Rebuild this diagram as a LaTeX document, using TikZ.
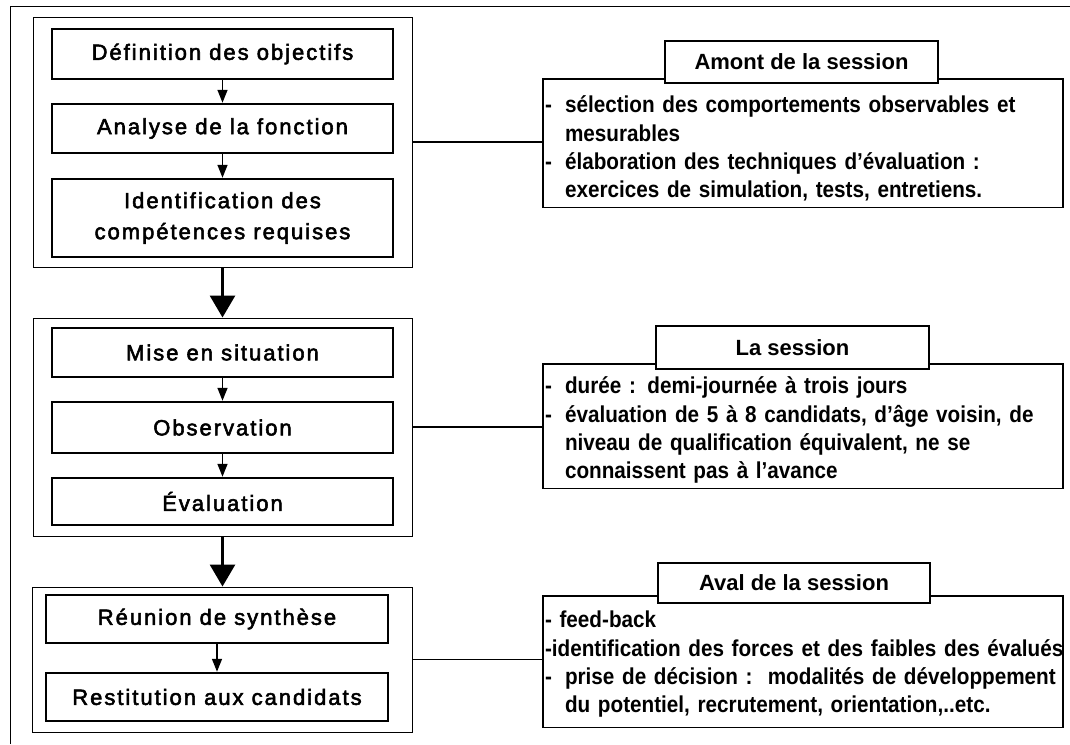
\documentclass[tikz,border=0pt]{standalone}
\usepackage{fontspec}
\setmainfont{Liberation Sans}
\newfontfamily\spacedfont[LetterSpace=9,FakeBold=2.5,Ligatures=TeX]{Liberation Sans}
\newfontfamily\infofont[FakeStretch=0.9,Ligatures=TeX]{Liberation Sans Bold}
\usetikzlibrary{arrows.meta}
\newcommand\oneline[1]{\mbox{#1}}
\newcommand\dashitem{\makebox[20pt][l]{-}}
\newcommand\indentitem{\hspace*{20pt}}
\newcommand\toprule[1]{\rule{0pt}{#1}}
\newcommand\botrule[1]{\rule[-#1]{0pt}{#1}}
\begin{document}
\begin{tikzpicture}[x=1pt,y=-1pt,
  stepbox/.style={draw, line width=2.5pt, minimum width=341pt, inner sep=0pt, align=center,
    font=\spacedfont\fontsize{22}{31}\selectfont},
  groupbox/.style={draw, line width=1pt, inner sep=0pt},
  titlebox/.style={draw, fill=white, line width=2pt, inner sep=0pt,
    font=\bfseries\fontsize{22}{26}\selectfont},
  infobox/.style={draw, line width=1.5pt, anchor=north, text width=516pt, inner xsep=2pt, inner ysep=0pt,
    align=left, font=\infofont\fontsize{23}{28.3}\selectfont},
  smallarrow/.style={line width=1.5pt, -{Triangle[width=10pt,length=13pt]}},
  bigarrow/.style={line width=3pt, -{Triangle[width=25pt,length=22pt]}},
  link/.style={line width=1.5pt},
  frame/.style={line width=1pt}]
\path[use as bounding box] (0,0) rectangle (1070,744);

% outer frame (top and left edges)
\draw[frame] (10,744) -- (10,6) -- (1070,6);

% groups
\node[groupbox, minimum width=379pt, minimum height=250pt] (g1) at (222.5,142) {};
\node[groupbox, minimum width=379pt, minimum height=218pt] (g2) at (222.5,427) {};
\node[groupbox, minimum width=380pt, minimum height=145pt] (g3) at (222,659.5) {};

% steps
\node[stepbox, minimum height=50pt] (def) at (222.5,54) {Définition des objectifs};
\node[stepbox, minimum height=49pt] (ana) at (222.5,128.5) {Analyse de la fonction};
\node[stepbox, minimum height=78pt] (ide) at (222.5,218) {Identification des\\compétences requises};

\node[stepbox, minimum height=49pt] (mis) at (222.5,352.5) {Mise en situation};
\node[stepbox, minimum height=51pt] (obs) at (222.5,427.5) {Observation};
\node[stepbox, minimum height=47pt] (eva) at (222.5,501.5) {Évaluation};

\node[stepbox, minimum width=342pt, minimum height=48pt] (reu) at (217,619) {Réunion de synthèse};
\node[stepbox, minimum width=342pt, minimum height=48pt] (res) at (217,697) {Restitution aux candidats};

% arrows
\draw[smallarrow] (def.south) -- (ana.north);
\draw[smallarrow] (ana.south) -- (ide.north);
\draw[smallarrow] (mis.south) -- (obs.north);
\draw[smallarrow] (obs.south) -- (eva.north);
\draw[smallarrow] (reu.south) -- (res.north);
\draw[bigarrow] (g1.south) -- (g2.north);
\draw[bigarrow] (g2.south) -- (g2.south |- g3.north);

% info boxes
\node[infobox] (c1) at (803,78) {%
\toprule{34pt}\oneline{\dashitem sélection des comportements observables et}\\
\oneline{\indentitem mesurables}\\
\oneline{\dashitem élaboration des techniques d’évaluation :}\\
\oneline{\indentitem exercices de simulation, tests, entretiens.}\botrule{10pt}};
\node[infobox] (c2) at (803,363) {%
\toprule{30pt}\oneline{\dashitem durée : demi-journée à trois jours}\\
\oneline{\dashitem évaluation de 5 à 8 candidats, d’âge voisin, de}\\
\oneline{\indentitem niveau de qualification équivalent, ne se}\\
\oneline{\indentitem connaissent pas à l’avance}\botrule{10pt}};
\node[infobox] (c3) at (803,595) {%
\toprule{32pt}\oneline{- feed-back}\\
\oneline{-identification des forces et des faibles des évalués}\\
\oneline{\dashitem prise de décision :\ \ modalités de développement}\\
\oneline{\indentitem du potentiel, recrutement, orientation,..etc.}\botrule{15pt}};

\node[titlebox, minimum width=273pt, minimum height=42pt] (t1) at (801.5,62) {Amont de la session};
\node[titlebox, minimum width=273pt, minimum height=43pt] (t2) at (792.5,347.5) {La session};
\node[titlebox, minimum width=272pt, minimum height=40pt] (t3) at (794,583) {Aval de la session};

% links
\draw[link] (g1.east) -- (g1.east -| c1.west);
\draw[link] (g2.east) -- (g2.east -| c2.west);
\draw[link] (g3.east) -- (g3.east -| c3.west);
\end{tikzpicture}
\end{document}
